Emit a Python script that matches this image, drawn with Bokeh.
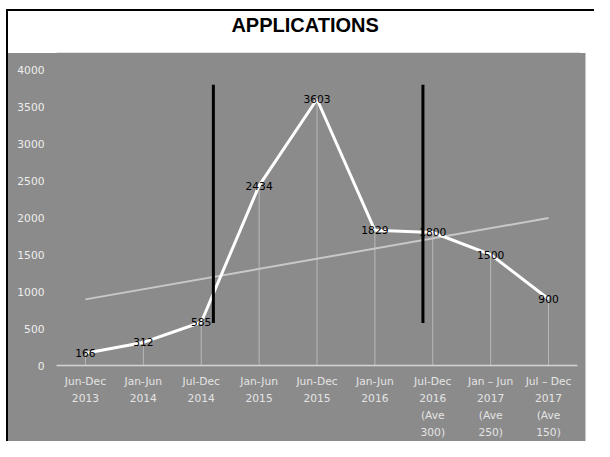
from bokeh.plotting import figure
from bokeh.layouts import column, row
from bokeh.models import Range1d, FixedTicker, ColumnDataSource, Spacer
from bokeh.core.properties import value
from bokeh.embed import file_html
from bokeh.resources import INLINE

# ---- data ----
periods = ["Jun-Dec\n2013", "Jan-Jun\n2014", "Jul-Dec\n2014", "Jan-Jun\n2015",
           "Jun-Dec\n2015", "Jan-Jun\n2016", "Jul-Dec\n2016\n(Ave\n300)",
           "Jan \u2013 Jun\n2017\n(Ave\n250)", "Jul \u2013 Dec\n2017\n(Ave\n150)"]
applications = [166, 312, 585, 2434, 3603, 1829, 1800, 1500, 900]
trend_x = [0, 8]
trend_y = [895, 1995]
divider_x = [2.21, 5.83]
divider_bottom = [575, 575]
divider_top = [3800, 3800]
y_ticks = [0, 500, 1000, 1500, 2000, 2500, 3000, 3500, 4000]
title_text = "APPLICATIONS"

GRAY = "#8b8b8b"
xs = list(range(len(applications)))

# ---- title band ----
pt = figure(width=586, height=42, x_range=Range1d(0, 1), y_range=Range1d(0, 1),
            output_backend="svg", toolbar_location=None, min_border=0)
pt.axis.visible = False
pt.grid.visible = False
pt.outline_line_color = None
pt.background_fill_color = "white"
pt.border_fill_color = "white"
pt.line([0, 0.99], [0, 0], line_color="#c4c4c4", line_width=2)
pt.text(x=[0.47], y=[0.67], text=[title_text], text_font=value("Liberation Sans"),
        text_font_style="bold", text_font_size="20px", text_color="black",
        text_align="center", text_baseline="middle")

# ---- main chart ----
p = figure(width=578, height=388, x_range=Range1d(-0.5, 8.5), y_range=Range1d(0, 4114),
           output_backend="svg", toolbar_location=None,
           min_border_left=48, min_border_right=9, min_border_top=8, min_border_bottom=74,
           styles={"border-right": "1px solid #c8c8c8", "background-color": GRAY})
p.background_fill_color = GRAY
p.border_fill_color = GRAY
p.outline_line_color = None
p.grid.visible = False

p.yaxis.ticker = FixedTicker(ticks=y_ticks)
p.yaxis.axis_line_color = None
p.yaxis.major_tick_line_color = None
p.yaxis.minor_tick_line_color = None
p.yaxis.major_tick_out = 0
p.yaxis.major_label_text_color = "#eeeeee"
p.yaxis.major_label_text_font = "DejaVu Sans"
p.yaxis.major_label_text_font_size = "10.7px"
p.yaxis.major_label_standoff = 12

p.xaxis.ticker = FixedTicker(ticks=xs)
p.xaxis.major_label_overrides = {i: lab for i, lab in zip(xs, periods)}
p.xaxis.axis_line_color = "#d4d4d4"
p.xaxis.axis_line_width = 1.5
p.xaxis.major_tick_line_color = None
p.xaxis.minor_tick_line_color = None
p.xaxis.major_tick_out = 0
p.xaxis.major_label_text_color = "#e4e4e4"
p.xaxis.major_label_text_font = "DejaVu Sans"
p.xaxis.major_label_text_font_size = "10.7px"
p.xaxis.major_label_text_line_height = 1.32
p.xaxis.major_label_standoff = 9

src = ColumnDataSource(dict(x=xs, y=applications, zero=[0] * len(xs),
                            label=[str(v) for v in applications]))

# drop lines
p.segment(x0="x", y0="zero", x1="x", y1="y", source=src, line_color="#c4c4c4",
          line_width=1, line_alpha=0.8)
# trend line
p.line(trend_x, trend_y, line_color="#c8c8c8", line_width=2)
# main series
p.line("x", "y", source=src, line_color="white", line_width=3)
# black dividers
p.segment(x0=divider_x, y0=divider_bottom, x1=divider_x, y1=divider_top,
          line_color="black", line_width=3)
# data labels
p.text("x", "y", text="label", source=src, text_font=value("DejaVu Sans"),
       text_font_size="10.7px", text_color="black", text_align="center",
       text_baseline="middle")

inner = column(pt, p, spacing=0,
               styles={"border-top": "2px solid black", "border-left": "2px solid black"})
lay = column(Spacer(width=594, height=9), row(Spacer(width=6, height=10), inner, spacing=0),
             spacing=0)

open("out.html", "w").write(file_html(lay, INLINE))
